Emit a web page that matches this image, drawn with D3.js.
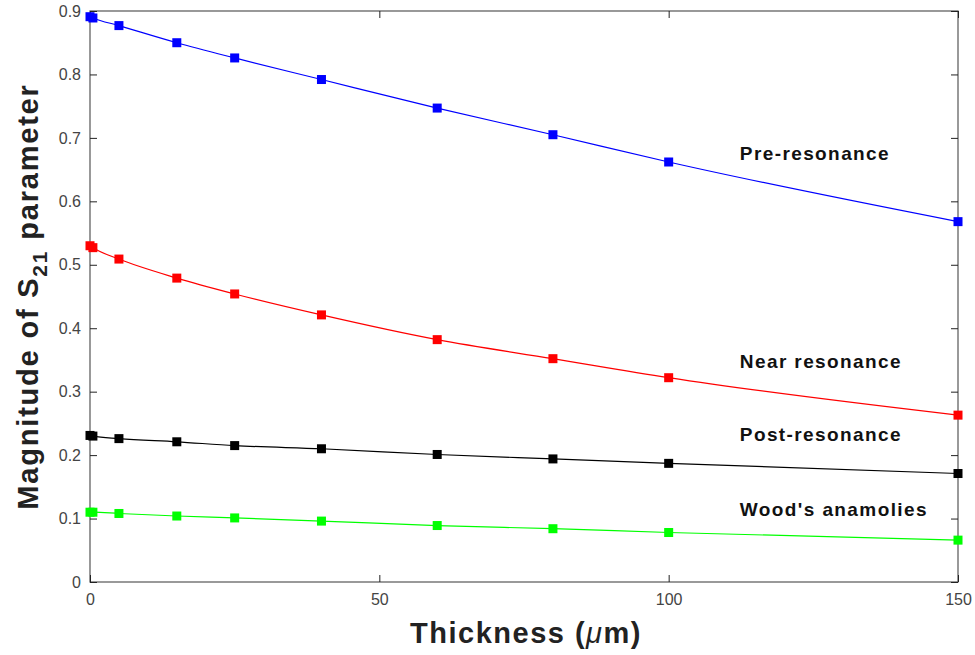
<!DOCTYPE html>
<html>
<head>
<meta charset="utf-8">
<script src="https://cdn.jsdelivr.net/npm/d3@7"></script>
<style>
  body { margin: 0; background: #fff; }
  svg { display: block; font-family: 'Liberation Sans', Arial, sans-serif; }
</style>
</head>
<body>
<script>
const thickness = [0, 0.5, 5, 15, 25, 40, 60, 80, 100, 150];

const preResonance = [0.891, 0.889, 0.877, 0.850, 0.826, 0.792, 0.747, 0.705, 0.662, 0.568];
const nearResonance = [0.530, 0.527, 0.509, 0.479, 0.454, 0.421, 0.382, 0.352, 0.322, 0.263];
const postResonance = [0.231, 0.230, 0.226, 0.221, 0.215, 0.210, 0.201, 0.194, 0.187, 0.171];
const woods = [0.110, 0.110, 0.108, 0.104, 0.101, 0.096, 0.089, 0.084, 0.078, 0.066];

const seriesNames = ['Pre-resonance', 'Near resonance', 'Post-resonance', "Wood's anamolies"];
const seriesColors = ['#0000ff', '#ff0000', '#000000', '#00ff00'];
const labelValues = [0.665, 0.338, 0.223, 0.104];

const xTicks = [0, 50, 100, 150];
const yTicks = [0, 0.1, 0.2, 0.3, 0.4, 0.5, 0.6, 0.7, 0.8, 0.9];

const width = 975;
const height = 655;
const margin = { top: 11, right: 17, bottom: 73, left: 90 };

const svg = d3.select('body').append('svg')
  .attr('width', width)
  .attr('height', height);

const x = d3.scaleLinear()
  .domain([0, 150])
  .range([margin.left, width - margin.right]);

const y = d3.scaleLinear()
  .domain([0, 0.9])
  .range([height - margin.bottom, margin.top]);

const axisColor = '#555';

// box
svg.append('rect')
  .attr('x', x(0))
  .attr('y', y(0.9))
  .attr('width', x(150) - x(0))
  .attr('height', y(0) - y(0.9))
  .attr('fill', 'none')
  .attr('stroke', axisColor)
  .attr('stroke-width', 1.2);

// axes with inward ticks
const xAxisG = svg.append('g')
  .attr('transform', `translate(0,${y(0)})`)
  .call(d3.axisBottom(x).tickValues(xTicks).tickSize(-7).tickPadding(12).tickFormat(d3.format('d')));

const xTopG = svg.append('g')
  .attr('transform', `translate(0,${y(0.9)})`)
  .call(d3.axisTop(x).tickValues(xTicks).tickSize(-7).tickFormat(''));

const yAxisG = svg.append('g')
  .attr('transform', `translate(${x(0)},0)`)
  .call(d3.axisLeft(y).tickValues(yTicks).tickSize(-7).tickPadding(9).tickFormat(d => d === 0 ? '0' : d3.format('.1f')(d)));

const yRightG = svg.append('g')
  .attr('transform', `translate(${x(150)},0)`)
  .call(d3.axisRight(y).tickValues(yTicks).tickSize(-7).tickFormat(''));

for (const g of [xAxisG, xTopG, yAxisG, yRightG]) {
  g.select('.domain').remove();
  g.selectAll('.tick line').attr('stroke', '#222');
  g.selectAll('.tick text')
    .attr('fill', '#444')
    .attr('font-size', 16)
    .attr('font-family', "'Liberation Sans', Arial, sans-serif");
}

// series
const allSeries = [preResonance, nearResonance, postResonance, woods];

const line = d3.line()
  .x((d, i) => x(thickness[i]))
  .y(d => y(d))
  .curve(d3.curveMonotoneX);

allSeries.forEach((vals, k) => {
  svg.append('path')
    .datum(vals)
    .attr('d', line)
    .attr('fill', 'none')
    .attr('stroke', seriesColors[k])
    .attr('stroke-width', 1.2);

  svg.append('g')
    .selectAll('rect')
    .data(vals)
    .join('rect')
    .attr('x', (d, i) => x(thickness[i]) - 4.5)
    .attr('y', d => y(d) - 4.5)
    .attr('width', 9)
    .attr('height', 9)
    .attr('fill', seriesColors[k]);
});

// series labels
svg.append('g')
  .selectAll('text')
  .data(seriesNames)
  .join('text')
  .attr('x', x(112.3))
  .attr('y', (d, i) => y(labelValues[i]))
  .attr('font-size', 19)
  .attr('font-weight', 'bold')
  .attr('letter-spacing', 1.4)
  .attr('fill', '#111')
  .text(d => d);

// x label
const xl = svg.append('text')
  .attr('x', (x(0) + x(150)) / 2 + 2)
  .attr('y', 643)
  .attr('text-anchor', 'middle')
  .attr('font-size', 29)
  .attr('font-weight', 'bold')
  .attr('letter-spacing', 1.5)
  .attr('fill', '#222');
xl.append('tspan').text('Thickness (');
xl.append('tspan').attr('font-style', 'italic').attr('font-weight', 'normal').text('\u03bc');
xl.append('tspan').text('m)');

// y label
const yl = svg.append('text')
  .attr('transform', `translate(38,${(y(0) + y(0.9)) / 2}) rotate(-90)`)
  .attr('text-anchor', 'middle')
  .attr('font-size', 29)
  .attr('font-weight', 'bold')
  .attr('letter-spacing', 1.8)
  .attr('fill', '#222');
yl.append('tspan').text('Magnitude of S');
yl.append('tspan').attr('font-size', 21).attr('dy', 9).text('21');
yl.append('tspan').attr('dy', -9).text(' parameter');
</script>
</body>
</html>
